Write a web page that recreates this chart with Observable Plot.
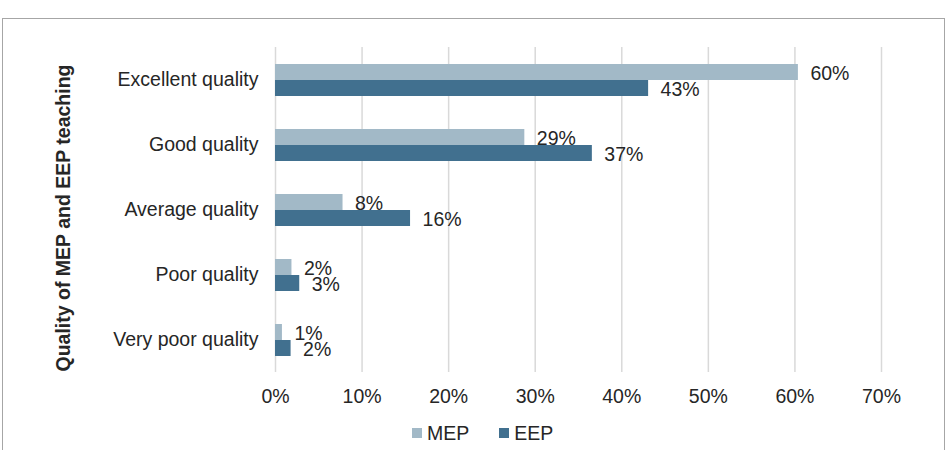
<!DOCTYPE html>
<html>
<head>
<meta charset="utf-8">
<script src="https://cdn.jsdelivr.net/npm/d3@7"></script>
<script src="https://cdn.jsdelivr.net/npm/@observablehq/plot@0.6"></script>
<style>
  body { margin: 0; background: #fff; font-family: "Liberation Sans", Arial, sans-serif; }
  #wrap { position: relative; width: 949px; height: 450px; overflow: hidden; background: #fff; }
  #frame { position: absolute; left: 2px; top: 18px; width: 941px; height: 460px; border: 1.5px solid #a6a6a6; pointer-events: none; }
  #legend { position: absolute; top: 422px; left: 412px; display: flex; align-items: center; font-size: 19.5px; line-height: 22px; color: #262626; }
  #legend .item { display: flex; align-items: center; margin-right: 30px; }
  #legend .sw { width: 10px; height: 10px; margin-right: 5px; }
</style>
</head>
<body>
<div id="wrap">
  <div id="chart"></div>
  <div id="legend"></div>
  <div id="frame"></div>
</div>
<script>
const categories = ["Excellent quality", "Good quality", "Average quality", "Poor quality", "Very poor quality"];
const series = ["MEP", "EEP"];
const mepValues = [60.4, 28.8, 7.8, 1.9, 0.8];
const eepValues = [43.1, 36.6, 15.6, 2.8, 1.8];
const seriesColors = ["#a2b9c7", "#41708f"];
const xTicks = [0, 10, 20, 30, 40, 50, 60, 70];
const yTitle = "Quality of MEP and EEP teaching";

const rows = [];
categories.forEach((c, i) => {
  rows.push({category: c, series: "MEP", value: mepValues[i]});
  rows.push({category: c, series: "EEP", value: eepValues[i]});
});

const chart = Plot.plot({
  width: 949,
  height: 415,
  marginLeft: 275,
  marginRight: 68,
  marginTop: 45,
  marginBottom: 42,
  style: {fontFamily: "'Liberation Sans', Arial, sans-serif", fontSize: "19.5px", color: "#262626", background: "transparent"},
  x: {domain: [0, 70]},
  y: {domain: series, axis: null, paddingInner: 0, paddingOuter: 0.93},
  fy: {domain: categories, padding: 0},
  color: {domain: series, range: seriesColors},
  marks: [
    Plot.gridX(xTicks, {stroke: "#d9d9d9", strokeOpacity: 1, strokeWidth: 1.5}),
    Plot.barX(rows, {x: "value", y: "series", fy: "category", fill: "series"}),
    Plot.text(rows, {x: "value", y: "series", fy: "category", text: d => Math.round(d.value) + "%", textAnchor: "start", dx: 12, dy: 1, fill: "#262626"}),
    Plot.axisX({ticks: xTicks, tickFormat: d => d + "%", tickSize: 0, tickPadding: 17, label: null}),
    Plot.axisFy({anchor: "left", tickSize: 0, tickPadding: 17, label: null}),
    Plot.text([{category: categories[2]}], {fy: "category", frameAnchor: "left", textAnchor: "middle", text: () => yTitle, rotate: -90, dx: -212, dy: 8, fontWeight: "bold", fill: "#262626"})
  ]
});
document.getElementById("chart").appendChild(chart);

const legend = document.getElementById("legend");
series.forEach((s, i) => {
  const item = document.createElement("div");
  item.className = "item";
  const sw = document.createElement("span");
  sw.className = "sw";
  sw.style.background = seriesColors[i];
  const t = document.createElement("span");
  t.textContent = s;
  item.appendChild(sw);
  item.appendChild(t);
  legend.appendChild(item);
});
</script>
</body>
</html>
